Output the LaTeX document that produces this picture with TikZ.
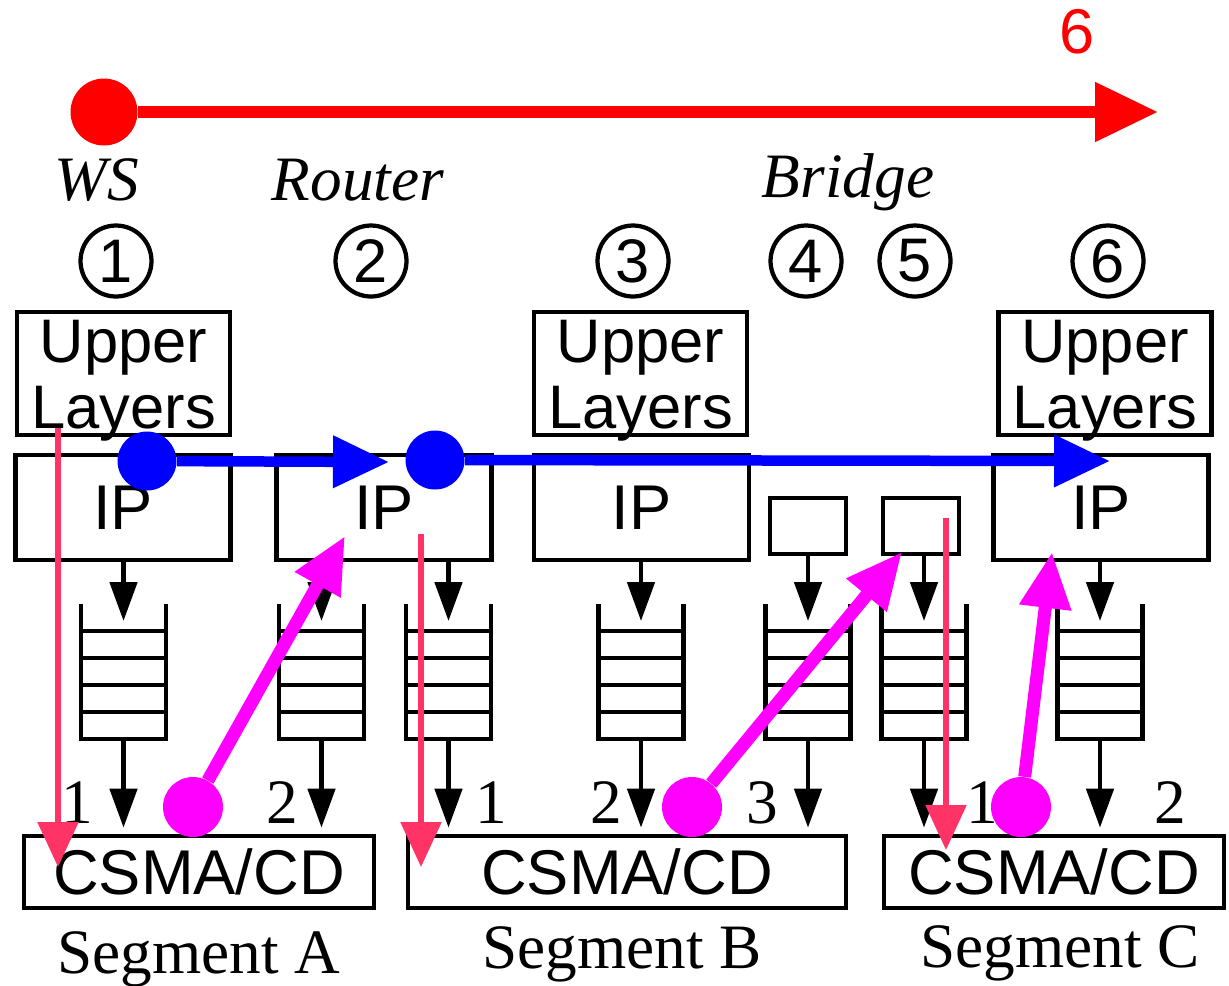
\documentclass[tikz,border=0pt]{standalone}
\usepackage{fontspec}
\setmainfont{Liberation Serif}
\setsansfont{Liberation Sans}
\usepackage{tikz}
\usetikzlibrary{arrows.meta,positioning,calc}
\definecolor{PathRed}{HTML}{FF0000}
\definecolor{PathBlue}{HTML}{0000FF}
\definecolor{PathMagenta}{HTML}{FF00FF}
\definecolor{PathPink}{HTML}{FF3366}
\tikzset{
  netbox/.style={
    draw,
    line width=0.095cm,
    inner sep=0pt,
    align=center
  },
  upperbox/.style={netbox, minimum width=4.26cm, minimum height=2.46cm},
  uppertext/.style={inner sep=0pt, align=center, font=\sffamily\fontsize{35}{37.6}\selectfont},
  ipbox/.style={netbox, minimum width=4.3cm, minimum height=2.1cm, font=\sffamily\fontsize{36}{40}\selectfont},
  bridgebox/.style={netbox, minimum width=1.52cm, minimum height=1.12cm},
  csmabox/.style={netbox, minimum height=1.44cm, font=\sffamily\fontsize{36}{40}\selectfont},
  queue/.style={minimum width=1.7cm, minimum height=2.7cm, inner sep=0pt, outer sep=0pt},
  queueline/.style={line width=0.095cm},
  stagemark/.style={circle, draw, line width=0.085cm, minimum size=1.42cm, inner sep=0pt, font=\sffamily\fontsize{35}{40}\selectfont},
  devicename/.style={anchor=base, inner sep=0pt, font=\itshape\fontsize{36}{40}\selectfont},
  portnum/.style={anchor=base, inner sep=0pt, font=\fontsize{36}{40}\selectfont},
  segname/.style={anchor=base, inner sep=0pt, font=\fontsize{36}{40}\selectfont},
  hopcount/.style={inner sep=0pt, text=PathRed, font=\sffamily\fontsize{36}{40}\selectfont},
  flow/.style={-{Triangle[length=0.78cm, width=0.54cm]}, line width=0.095cm},
  pinkflow/.style={-{Triangle[length=0.9cm, width=0.8cm]}, line width=0.11cm, draw=PathPink},
  hopflow/.style={-{Triangle[length=1.12cm, width=0.98cm]}, line width=0.26cm, draw=PathMagenta},
  ipflow/.style={-{Triangle[length=1.12cm, width=1cm]}, line width=0.21cm, draw=PathBlue},
  endflow/.style={-{Triangle[length=1.26cm, width=1.14cm]}, line width=0.23cm, draw=PathRed},
  spot/.style={circle, inner sep=0pt, minimum size=#1},
  hopdot/.style={spot=1.2cm, fill=PathMagenta},
  ipdot/.style={spot=1.18cm, fill=PathBlue},
  enddot/.style={spot=1.34cm, fill=PathRed}
}

\begin{document}
\begin{tikzpicture}[x=0.02cm, y=-0.02cm]
  \useasboundingbox (0,0) rectangle (1229,985);

  % end-to-end path
  \node[enddot] (src) at (104,112) {};
  \coordinate (dst) at (1158,112);
  \draw[endflow] (src) -- (dst);
  \node[hopcount] (hops) at (1077,31.5) {6};

  % devices and stages
  \node[devicename] (ws) at (97,200) {WS};
  \node[devicename] (router) at (358,200) {Router};
  \node[devicename] (bridge) at (848,197) {Bridge};
  \foreach \n/\x in {1/116,2/371,3/633,4/806,5/915,6/1108}
    \node[stagemark] (st\n) at (\x,261) {\n};

  % layers
  \node[upperbox] (ul1) at (123.5,373.5) {};
  \node[upperbox] (ul3) at (640.5,373.5) {};
  \node[upperbox] (ul6) at (1105,373.5) {};
  \foreach \bx in {ul1,ul3,ul6}
    \node[uppertext, below=0.2cm of \bx.north] (\bx txt) {Upper\\Layers};
  \node[ipbox] (ip1) at (123,507.5) {IP};
  \node[ipbox] (ip2) at (384,507.5) {IP};
  \node[ipbox] (ip3) at (641.5,507.5) {IP};
  \node[ipbox] (ip6) at (1101,507.5) {IP};
  \node[bridgebox] (br4) at (808,526) {};
  \node[bridgebox] (br5) at (921,526) {};

  % segments
  \node[csmabox, minimum width=7cm] (segA) at (199,872) {CSMA/CD};
  \node[csmabox, minimum width=8.76cm] (segB) at (627,872) {CSMA/CD};
  \node[csmabox, minimum width=6.8cm] (segC) at (1054,872) {CSMA/CD};
  \node[segname] (nameA) at (199,973) {Segment A};
  \node[segname] (nameB) at (622,968) {Segment B};
  \node[segname] (nameC) at (1060,967) {Segment C};

  % queues
  \foreach \q/\x in {q1/123.5,q2/321.5,q3/448.5,q4/641,q5/808,q6/924,q7/1100} {
    \node[queue] (\q) at (\x,671.5) {};
    \draw[queueline] (\q.north west) -- (\q.south west) -- (\q.south east) -- (\q.north east);
    \foreach \k in {1,...,4}
      \draw[queueline] ($(\q.south west)!\k/5!(\q.north west)$) -- ($(\q.south east)!\k/5!(\q.north east)$);
  }
  \foreach \b/\q in {ip1/q1,ip2/q2,ip2/q3,ip3/q4,br4/q5,br5/q6,ip6/q7}
    \draw[flow] (\b.south -| \q) -- ([yshift=-0.34cm]\q.north);
  \foreach \q/\s in {q1/segA,q2/segA,q3/segB,q4/segB,q5/segB,q6/segC,q7/segC}
    \draw[flow, shorten >=0.12cm] (\q.south) -- (\q.south |- \s.north);
  \foreach \p/\x/\lbl in {p1/77/1,p2/282/2,p3/491/1,p4/606/2,p5/762/3,p6/982/1,p7/1170/2}
    \node[portnum] (\p) at (\x,823) {\lbl};

  % frame path down the stacks
  \coordinate (dropA) at (58,428);
  \coordinate (dropAend) at (58,867);
  \coordinate (dropB) at (421,534);
  \coordinate (dropBend) at (421,867);
  \coordinate (dropC) at (946,518);
  \coordinate (dropCend) at (946,850);
  \draw[pinkflow] (dropA) -- (dropAend);
  \draw[pinkflow] (dropB) -- (dropBend);
  \draw[pinkflow] (dropC) -- (dropCend);

  % hops up from the segments
  \node[hopdot] (hopA) at (193,807) {};
  \node[hopdot] (hopB) at (692,807) {};
  \node[hopdot] (hopC) at (1021,807) {};
  \coordinate (hopAend) at (345,536);
  \coordinate (hopBend) at (902,552);
  \coordinate (hopCend) at (1052,552);
  \draw[hopflow] (hopA) -- (hopAend);
  \draw[hopflow] (hopB) -- (hopBend);
  \draw[hopflow] (hopC) -- (hopCend);

  % IP path
  \node[ipdot] (ipA) at (147,461) {};
  \node[ipdot] (ipB) at (435,460) {};
  \coordinate (ipAend) at (389,462);
  \coordinate (ipBend) at (1110,461);
  \draw[ipflow] (ipA) -- (ipAend);
  \draw[ipflow] (ipB) -- (ipBend);
\end{tikzpicture}
\end{document}
